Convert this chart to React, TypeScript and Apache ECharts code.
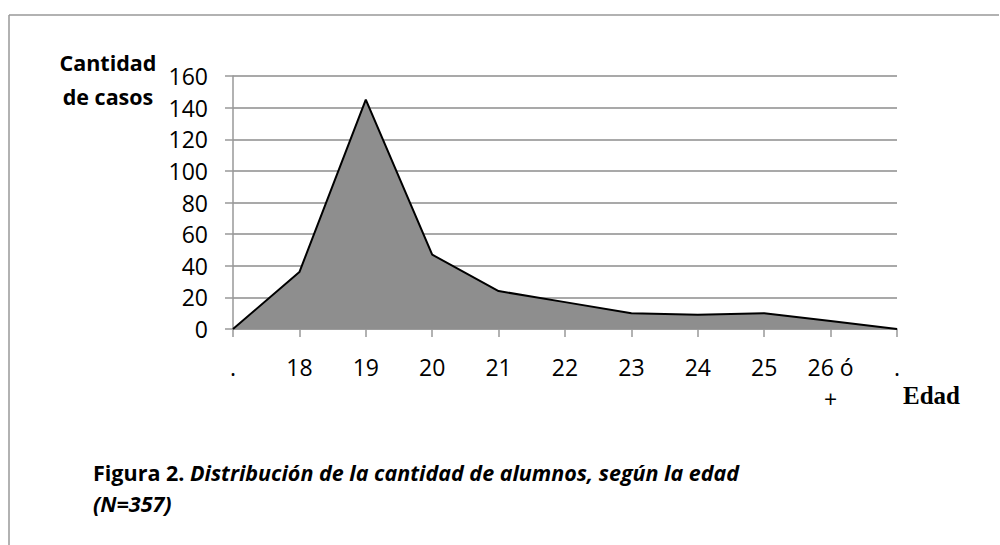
import React, { useEffect, useRef } from "react";
import * as echarts from "echarts";

const categories = [".", "18", "19", "20", "21", "22", "23", "24", "25", "26 ó\n+", "."];
const casos = [0, 36, 145, 47, 24, 17, 10, 9, 10, 5, 0];
const yTicks = { min: 0, max: 160, interval: 20 };
const yTitle = "Cantidad\nde casos";
const xTitle = "Edad";
const captionBold = "Figura 2. ";
const captionItalic1 = "Distribución de la cantidad de alumnos, según la edad";
const captionItalic2 = "(N=357)";

export default function App() {
  const ref = useRef<HTMLDivElement>(null);
  useEffect(() => {
    if (!ref.current) return;
    const chart = echarts.init(ref.current, null, { renderer: "svg" });
    const font = "'Open Sans', Lato, sans-serif";
    chart.setOption({
      animation: false,
      backgroundColor: "#ffffff",
      grid: { left: 233, right: 103, top: 76, bottom: 216, containLabel: false },
      xAxis: {
        type: "category",
        data: categories,
        boundaryGap: false,
        axisLine: { lineStyle: { color: "#999999", width: 1.5 } },
        axisTick: { show: true, length: 8, alignWithLabel: true, lineStyle: { color: "#999999", width: 1.5 } },
        axisLabel: {
          color: "#000",
          fontFamily: font,
          fontSize: 23,
          lineHeight: 32,
          margin: 22,
          interval: 0,
          align: "center",
        },
        splitLine: { show: false },
      },
      yAxis: {
        type: "value",
        min: yTicks.min,
        max: yTicks.max,
        interval: yTicks.interval,
        axisLine: { show: true, lineStyle: { color: "#999999", width: 1.5 } },
        axisTick: { show: true, length: 8, lineStyle: { color: "#999999", width: 1.5 } },
        axisLabel: { color: "#000", fontFamily: font, fontSize: 23, margin: 25 },
        splitLine: { show: true, lineStyle: { color: "#8c8c8c", width: 1.6 } },
      },
      series: [
        {
          type: "line",
          data: casos,
          symbol: "none",
          lineStyle: { color: "#000", width: 2 },
          areaStyle: { color: "#8e8e8e", opacity: 1 },
          z: 3,
        },
      ],
      graphic: [
        { type: "line", shape: { x1: 9, y1: 15, x2: 999, y2: 15 }, style: { stroke: "#999999", lineWidth: 1.5 } },
        { type: "line", shape: { x1: 9, y1: 15, x2: 9, y2: 545 }, style: { stroke: "#999999", lineWidth: 1.5 } },
        {
          type: "text",
          x: 108,
          y: 45,
          style: {
            text: yTitle,
            fontFamily: font,
            fontWeight: "bold",
            fontSize: 21.5,
            lineHeight: 34,
            fill: "#000",
            align: "center",
            verticalAlign: "top",
          },
        },
        {
          type: "text",
          left: 903,
          top: 383,
          style: {
            text: xTitle,
            fontFamily: "'Liberation Serif', 'Times New Roman', serif",
            fontWeight: "bold",
            fontSize: 25,
            fill: "#000",
          },
        },
        {
          type: "text",
          left: 93,
          top: 461,
          style: {
            text: "{b|" + captionBold + "}{i|" + captionItalic1 + "}\n{i|" + captionItalic2 + "}",
            rich: {
              b: { fontFamily: font, fontWeight: "bold", fontSize: 21.5, lineHeight: 31, fill: "#000" },
              i: { fontFamily: font, fontWeight: "bold", fontStyle: "italic", fontSize: 21.5, lineHeight: 31, fill: "#000" },
            },
          },
        },
      ],
    });
    return () => chart.dispose();
  }, []);
  return (
    <div
      ref={ref}
      style={{ position: "fixed", left: 0, top: 0, width: 1000, height: 545, background: "#fff" }}
    />
  );
}
